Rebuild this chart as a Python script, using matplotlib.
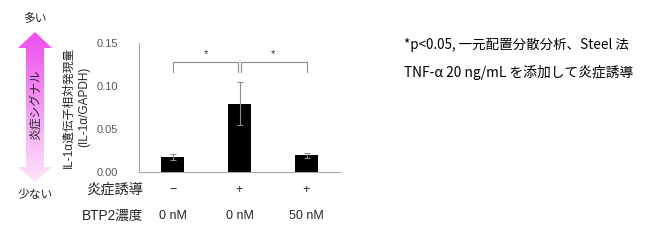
import numpy as np
import matplotlib
matplotlib.use("Agg")
import matplotlib.pyplot as plt
from matplotlib.patches import Polygon
import matplotlib.transforms as mtransforms

plt.rcParams['font.family'] = ['Liberation Sans', 'Noto Sans CJK JP']
JP = ['Noto Sans CJK JP', 'DejaVu Sans']

# data
inflammation = ['\u2212', '+', '+']
btp2 = ['0 nM', '0 nM', '50 nM']
means = [0.017, 0.079, 0.019]
errors = [0.0033, 0.025, 0.0033]
sig_pairs = [(0, 1), (1, 2)]
y_ticks = [0.00, 0.05, 0.10, 0.15]

W, H = 659, 249
fig = plt.figure(figsize=(W / 100, H / 100), dpi=100)

# main bar axes (pixel positions from reference)
ax = fig.add_axes([139 / W, 1 - 171.7 / H, 201 / W, 129 / H])
x = np.arange(len(means))
ax.bar(x, means, width=0.33, color='black', zorder=2)
ax.errorbar(x, means, yerr=errors, fmt='none', ecolor='#8c8c8c',
            elinewidth=0.8, capsize=2, capthick=0.8, zorder=3)
ax.set_xlim(-0.5, 2.5)
ax.set_ylim(0, 0.15)
ax.set_yticks(y_ticks)
ax.set_yticklabels(['%.2f' % v for v in y_ticks])
ax.set_xticks([])
ax.tick_params(axis='y', length=0, pad=15, labelsize=8, labelcolor='#595959')
for s in ['top', 'right']:
    ax.spines[s].set_visible(False)
ax.spines['left'].set_color('#a6a6a6')
ax.spines['bottom'].set_color('#a6a6a6')
ax.spines['left'].set_linewidth(0.8)
ax.spines['bottom'].set_linewidth(0.8)

ax.set_ylabel('IL-1α遺伝子相対発現量\n(IL-1α/GAPDH)', fontsize=8.5,
              color='#262626', linespacing=1.3)
ax.yaxis.set_label_coords(-0.245, 0.5)

# significance brackets
top, drop, gap = 0.127, 0.0115, 0.02
for a, b in sig_pairs:
    xa = a + (gap if a == 1 else 0)
    xb = b - (gap if b == 1 else 0)
    ax.plot([xa, xa, xb, xb], [top - drop, top, top, top - drop],
            color='#8c8c8c', lw=0.8, clip_on=False)
    ax.text((a + b) / 2, top + 0.004, '*', ha='center', va='bottom',
            fontsize=8, color='#333333')

# row labels under the axis
trans = mtransforms.blended_transform_factory(ax.transData, ax.transAxes)
row1_y = -(190 - 171.7) / 129
row2_y = -(216 - 171.7) / 129
for i in x:
    ax.text(i, row1_y, inflammation[i], transform=trans, ha='center',
            va='center', fontsize=9, color='#262626')
    ax.text(i, row2_y, btp2[i], transform=trans, ha='center',
            va='center', fontsize=9, color='#262626')
ax.text(0.02, row1_y, '炎症誘導', transform=ax.transAxes, ha='right',
        va='center', fontsize=10.3, color='#262626', family=JP)
ax.text(0.02, row2_y, 'BTP2濃度', transform=ax.transAxes, ha='right',
        va='center', fontsize=9.8, color='#262626')

# overlay axes in pixel coordinates for arrow and notes
ov = fig.add_axes([0, 0, 1, 1], zorder=-1)
ov.set_xlim(0, W)
ov.set_ylim(H, 0)
ov.axis('off')

arrow_pts = [(35, 32), (52, 48), (44, 48), (44, 167), (52, 167),
             (35, 182), (18, 167), (26, 167), (26, 48), (18, 48)]
poly = Polygon(arrow_pts, closed=True, facecolor='none', edgecolor='none')
ov.add_patch(poly)
top_c = np.array([0.93, 0.30, 0.93])
bot_c = np.array([0.99, 0.90, 0.98])
t = np.linspace(0, 1, 256)[:, None, None]
grad = top_c * (1 - t) + bot_c * t
grad = np.repeat(grad, 2, axis=1)
im = ov.imshow(grad, extent=[18, 52, 182, 32], aspect='auto',
               interpolation='bilinear')
im.set_clip_path(poly)
ov.set_xlim(0, W)
ov.set_ylim(H, 0)

ov.text(35, 105, '炎症シグナル', rotation=90, ha='center', va='center',
        fontsize=8.5, color='#262626', family=JP)
ov.text(35, 19, '多い', ha='center', va='center', fontsize=8.5,
        color='#262626', family=JP)
ov.text(35, 194, '少ない', ha='center', va='center', fontsize=8.5,
        color='#262626', family=JP)

ov.text(404, 45, '*p<0.05, 一元配置分散分析、Steel 法', ha='left',
        va='center', fontsize=9.7, color='black', family=JP)
ov.text(404, 72, 'TNF-α 20 ng/mL を添加して炎症誘導', ha='left',
        va='center', fontsize=9.9, color='black', family=JP)

fig.savefig('out.png', dpi=100)
